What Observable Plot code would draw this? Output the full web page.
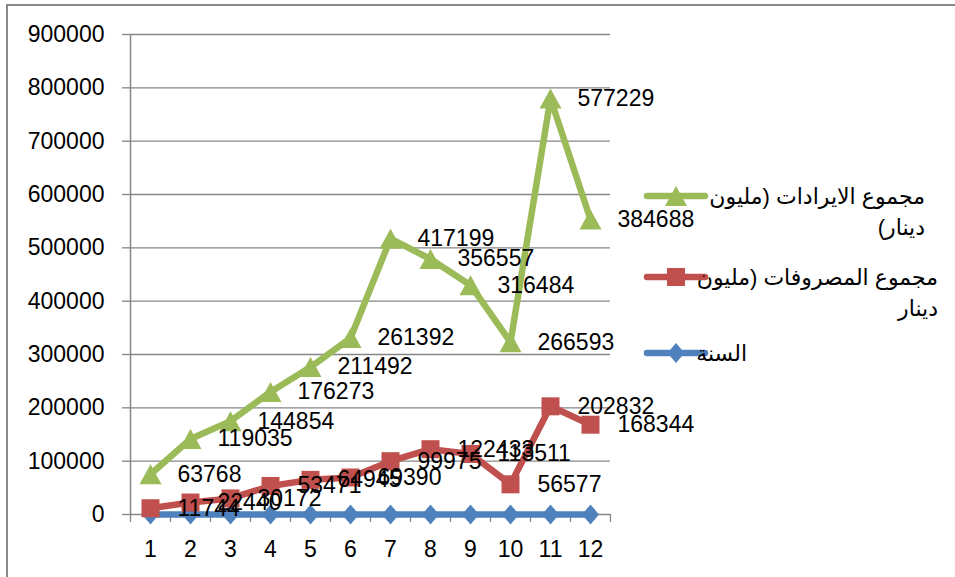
<!DOCTYPE html>
<html><head><meta charset="utf-8">
<script src="https://cdn.jsdelivr.net/npm/d3@7"></script>
<script src="https://cdn.jsdelivr.net/npm/@observablehq/plot@0.6"></script>
<style>
body{margin:0;background:#fff;}
svg{display:block;}
</style></head>
<body><div id="chart"></div>
<script>
// ---- data ----
const periods = [1, 2, 3, 4, 5, 6, 7, 8, 9, 10, 11, 12];
const yearValues = [0, 0, 0, 0, 0, 0, 0, 0, 0, 0, 0, 0];
const expenses = [11744, 22440, 30172, 53471, 64945, 69390, 99975, 122433, 113511, 56577, 202832, 168344];
const revenue = [63768, 119035, 144854, 176273, 211492, 261392, 417199, 356557, 316484, 266593, 577229, 384688];
const seriesYear = "السنة";
const seriesExp = "مجموع المصروفات (مليون دينار";
const seriesRev = "مجموع الايرادات (مليون دينار)";
const yTicks = [0, 100000, 200000, 300000, 400000, 500000, 600000, 700000, 800000, 900000];
const legendLines = {
  [seriesRev]: ["مجموع الايرادات (مليون", "دينار)"],
  [seriesExp]: ["مجموع المصروفات (مليون", "دينار"],
  [seriesYear]: ["السنة"]
};

// ---- styles ----
const order = [seriesYear, seriesExp, seriesRev];
const colorRange = ["#4F81BD", "#C0504D", "#9BBB59"];
const gridColor = "#868686";
const font = "'Liberation Sans', 'DejaVu Sans', Arial, sans-serif";

const triSym = {draw(ctx) { ctx.moveTo(0, -10); ctx.lineTo(11, 10); ctx.lineTo(-11, 10); ctx.closePath(); }};
const sqSym = {draw(ctx) { ctx.moveTo(-9, -9); ctx.lineTo(9, -9); ctx.lineTo(9, 9); ctx.lineTo(-9, 9); ctx.closePath(); }};
const diaSym = {draw(ctx) { ctx.moveTo(0, -10); ctx.lineTo(8.5, 0); ctx.lineTo(0, 10); ctx.lineTo(-8.5, 0); ctx.closePath(); }};
const symRange = [diaSym, sqSym, triSym];

// ---- table ----
const table = [];
periods.forEach((p, i) => table.push({period: p, series: seriesYear, value: yearValues[i]}));
periods.forEach((p, i) => table.push({period: p, series: seriesExp, value: expenses[i]}));
periods.forEach((p, i) => table.push({period: p, series: seriesRev, value: revenue[i]}));

const boundaries = d3.range(0.5, periods.length + 1, 1);

const chart = Plot.plot({
  width: 955,
  height: 577,
  marginLeft: 130,
  marginRight: 345,
  marginTop: 34,
  marginBottom: 63,
  style: {fontFamily: font, fontSize: "23px", color: "#000", background: "#fff"},
  x: {type: "linear", domain: [0.5, periods.length + 0.5], label: null},
  y: {domain: [0, 900000], label: null},
  color: {domain: order, range: colorRange},
  symbol: {domain: order, range: symRange},
  marks: [
    Plot.gridY(yTicks, {stroke: gridColor, strokeOpacity: 1, strokeWidth: 1.3}),
    Plot.axisY(yTicks, {tickSize: 8, tickPadding: 18, tickFormat: d3.format("d"), stroke: gridColor, strokeWidth: 1.3, fill: "#000", fontSize: 23}),
    Plot.axisX(boundaries, {tickSize: 8, tickFormat: () => "", stroke: gridColor, strokeWidth: 1.3}),
    Plot.axisX(periods, {tickSize: 0, tickPadding: 26, tickFormat: d3.format("d"), fill: "#000", fontSize: 23}),
    Plot.ruleX([0.5], {stroke: gridColor, strokeWidth: 1.5}),
    Plot.line(table, Plot.stackY2({x: "period", y: "value", z: "series", order, stroke: "series", strokeWidth: 6.5, strokeLinejoin: "miter", strokeLinecap: "butt"})),
    Plot.dot(table, Plot.stackY2({x: "period", y: "value", z: "series", order, symbol: "series", fill: "series", stroke: null})),
    Plot.text(table, Plot.stackY2({x: "period", y: "value", z: "series", order,
      text: d => d.series === seriesYear ? "" : String(d.value),
      textAnchor: "start", dx: 27, fontSize: 23, fill: "#000"}))
  ]
});
document.getElementById("chart").appendChild(chart);

// ---- legend & border ----
const svg = d3.select(chart);
const lg = svg.append("g").attr("font-family", font).attr("font-size", 22);
const legendSpec = [
  {series: seriesRev, y: 196, right: 925},
  {series: seriesExp, y: 277, right: 938},
  {series: seriesYear, y: 353, right: 747}
];
legendSpec.forEach(s => {
  const i = order.indexOf(s.series);
  lg.append("line").attr("x1", 647).attr("x2", 705).attr("y1", s.y).attr("y2", s.y)
    .attr("stroke", colorRange[i]).attr("stroke-width", 6.5).attr("stroke-linecap", "round");
  const p = d3.path(); symRange[i].draw(p);
  lg.append("path").attr("d", p.toString()).attr("transform", `translate(676,${s.y})`).attr("fill", colorRange[i]);
  legendLines[s.series].forEach((t, k) => {
    lg.append("text").attr("x", s.right).attr("y", s.y + k * 31).attr("dy", "0.35em")
      .attr("direction", "rtl").attr("text-anchor", "start").attr("fill", "#000").text(t);
  });
});
svg.append("path").attr("d", "M7,577V5H955").attr("fill", "none").attr("stroke", "#8a8a8a").attr("stroke-width", 2);
</script>
</body></html>
